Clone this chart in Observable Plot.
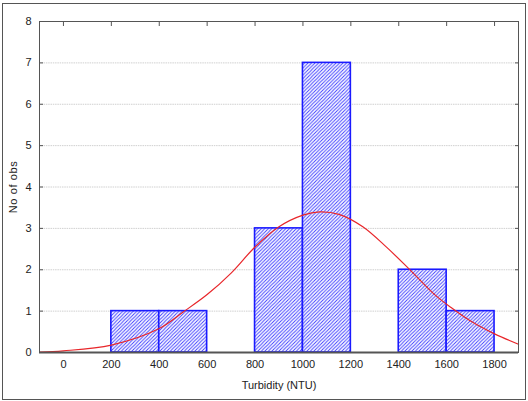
<!DOCTYPE html>
<html><head><meta charset="utf-8">
<script src="https://cdn.jsdelivr.net/npm/d3@7"></script>
<script src="https://cdn.jsdelivr.net/npm/@observablehq/plot@0.6"></script>
<style>
html,body{margin:0;padding:0;background:#fff;}
#wrap{position:relative;width:528px;height:401px;}
#frame{position:absolute;left:2px;top:3px;width:522px;height:395px;border:1px solid #555;pointer-events:none;}
#chart{position:absolute;left:0;top:0;}
</style>
</head><body>
<div id="wrap"><div id="chart"></div><div id="frame"></div></div>
<script>
// Histogram bins (Turbidity, NTU)
const binStart = [200, 400, 800, 1000, 1400, 1600];
const binEnd   = [400, 600, 1000, 1200, 1600, 1800];
const counts   = [1, 1, 3, 7, 2, 1];
// Fitted normal curve
const curveX = [-100, 0, 200, 400, 500, 600, 700, 800, 900, 1000, 1070, 1150, 1250, 1350, 1450, 1550, 1620, 1700, 1800, 1900];
const curveY = [0.01, 0.04, 0.18, 0.58, 0.98, 1.4, 1.92, 2.55, 3.04, 3.32, 3.40, 3.34, 3.04, 2.54, 1.98, 1.4, 1.08, 0.76, 0.45, 0.2];
const xTicks = [0, 200, 400, 600, 800, 1000, 1200, 1400, 1600, 1800];
const yTicks = [0, 1, 2, 3, 4, 5, 6, 7, 8];
const gridY = [1, 2, 3, 4, 5, 6, 7];

const bars = binStart.map((s, i) => ({x1: s, x2: binEnd[i], y: counts[i]}));
const curve = curveX.map((x, i) => ({x, y: curveY[i]}));

const chart = Plot.plot({
  width: 528, height: 401,
  marginLeft: 39, marginRight: 10, marginTop: 21, marginBottom: 49,
  style: {fontFamily: "'Liberation Sans', Arial, sans-serif", fontSize: "11px", color: "#222", background: "#fff"},
  x: {domain: [-100, 1900]},
  y: {domain: [0, 8]},
  marks: [
    Plot.ruleY(gridY, {stroke: "#d0d0d0", strokeDasharray: "1.5,0.8"}),
    Plot.rectY(bars, {x1: "x1", x2: "x2", y: "y", fill: "url(#hatch)", stroke: "#1a1aff", strokeWidth: 1.6}),
    Plot.line(curve, {x: "x", y: "y", stroke: "#e8262a", strokeWidth: 1.2, curve: "catmull-rom"}),
    Plot.frame({stroke: "#555"}),
    Plot.ruleY([0], {stroke: "#555", strokeWidth: 2}),
    Plot.axisX({ticks: xTicks, tickSize: 0, tickPadding: 8, tickFormat: d3.format("d"), label: "Turbidity (NTU)", labelArrow: "none", labelAnchor: "center", labelOffset: 36, fill: "#222"}),
    Plot.axisX({anchor: "top", ticks: xTicks, tickSize: -4, text: null, label: null, stroke: "#555"}),
    Plot.axisY({ticks: yTicks, tickSize: -4, tickPadding: 12, tickFormat: d3.format("d"), label: "No of obs", labelArrow: "none", labelAnchor: "center", labelOffset: 30, fill: "#222", stroke: "#555"}),
    Plot.axisY({anchor: "right", ticks: yTicks, tickSize: -4, text: null, label: null, stroke: "#555"})
  ]
});
const svg = d3.select(chart);
svg.selectAll('[aria-label="y-axis label"] text').style("letter-spacing", "0.6px");
const defs = svg.insert("defs", ":first-child");
const pat = defs.append("pattern").attr("id", "hatch").attr("patternUnits", "userSpaceOnUse")
  .attr("width", 3.5).attr("height", 3.5);
pat.append("rect").attr("width", 3.5).attr("height", 3.5).attr("fill", "#fff");
pat.append("path").attr("d", "M-1,1 l2,-2 M0,3.5 l3.5,-3.5 M2.5,4.5 l2,-2")
  .attr("stroke", "#3a3aff").attr("stroke-width", 0.9);
document.getElementById("chart").appendChild(chart);
</script>
</body></html>
